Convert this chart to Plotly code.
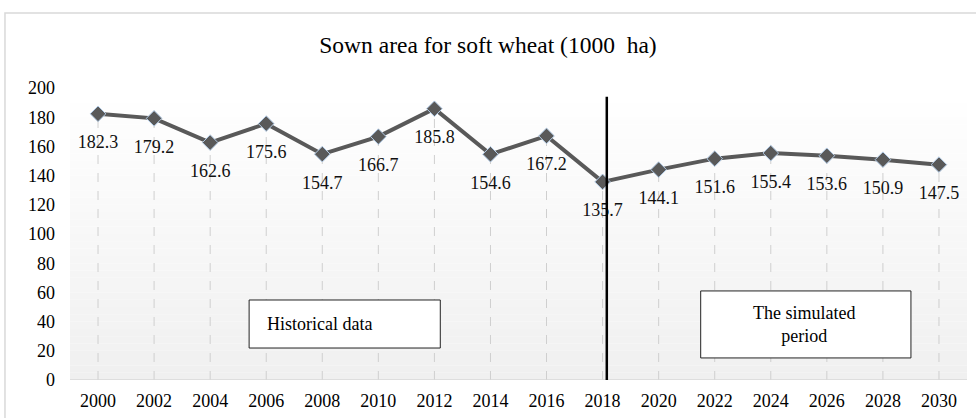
import plotly.graph_objects as go

years = [2000, 2002, 2004, 2006, 2008, 2010, 2012, 2014, 2016, 2018, 2020, 2022, 2024, 2026, 2028, 2030]
area = [182.3, 179.2, 162.6, 175.6, 154.7, 166.7, 185.8, 154.6, 167.2, 135.7, 144.1, 151.6, 155.4, 153.6, 150.9, 147.5]
y_ticks = list(range(0, 201, 20))
title = "Sown area for soft wheat (1000  ha)"
box_hist = "Historical data"
box_sim = "The simulated period"
split_year = 2018

FONT = "Liberation Serif, Times New Roman, serif"
LINE_C = "#595959"

fig = go.Figure()

# drop lines
dx, dy = [], []
for x, v in zip(years, area):
    dx += [x, x, None]
    dy += [0, v, None]
fig.add_trace(go.Scatter(x=dx, y=dy, mode="lines", hoverinfo="skip",
                         line=dict(color="#cfcfcf", width=1, dash="dash"), showlegend=False))

fig.add_trace(go.Scatter(x=years, y=area, mode="lines+markers",
                         line=dict(color=LINE_C, width=4),
                         marker=dict(symbol="diamond", size=12, color=LINE_C,
                                     line=dict(color="#b4cde8", width=1)),
                         showlegend=False))

# data labels below points (offset ~30 px => data units with 1.46 px/unit)
label_off = 30 / 1.46
fig.add_trace(go.Scatter(x=years, y=[v - label_off for v in area], mode="text",
                         text=[f"{v:.1f}" for v in area], textposition="middle center",
                         textfont=dict(family=FONT, size=18, color="#111111"),
                         hoverinfo="skip", showlegend=False))

shapes = []
# gradient background in plot area
n = 40
for i in range(n):
    t = i / (n - 1)
    c = int(round(255 - (255 - 240) * (1 - t)))
    shapes.append(dict(type="rect", xref="paper", yref="paper", x0=0, x1=1,
                       y0=i / n, y1=(i + 1) / n, fillcolor=f"rgb({c},{c},{c})",
                       line=dict(width=0), layer="below"))
# outer chart border
shapes.append(dict(type="rect", xref="paper", yref="paper", x0=-0.0725, x1=1.05,
                   y0=-0.3, y1=1.257, line=dict(color="#d9d9d9", width=1.5),
                   fillcolor="rgba(0,0,0,0)", layer="below"))
# zero line
shapes.append(dict(type="line", xref="paper", yref="y", x0=0, x1=1, y0=0, y1=0,
                   line=dict(color="#d9d9d9", width=1.5), layer="above"))
# split line
shapes.append(dict(type="line", xref="x", yref="y", x0=split_year + 0.15, x1=split_year + 0.15,
                   y0=0, y1=194, line=dict(color="black", width=2.5), layer="above"))
# text boxes
shapes.append(dict(type="rect", xref="x", yref="y", x0=2005.39, x1=2012.21, y0=21.9, y1=54.8,
                   fillcolor="white", line=dict(color="#222222", width=1), layer="above"))
shapes.append(dict(type="rect", xref="x", yref="y", x0=2021.5, x1=2029.0, y0=15.1, y1=61.0,
                   fillcolor="white", line=dict(color="#222222", width=1), layer="above"))

annotations = [
    dict(x=2005.95, y=38.4, xref="x", yref="y", text=box_hist, showarrow=False,
         xanchor="left", yanchor="middle", font=dict(family=FONT, size=18, color="black")),
    dict(x=2025.2, y=38.0, xref="x", yref="y", text=box_sim.replace("simulated ", "simulated<br>"),
         showarrow=False, xanchor="center", yanchor="middle", align="center",
         font=dict(family=FONT, size=18, color="black")),
]

fig.update_layout(
    width=976, height=418,
    margin=dict(l=70, r=9, t=88, b=38, autoexpand=False),
    paper_bgcolor="white", plot_bgcolor="rgba(0,0,0,0)",
    title=dict(text=title, x=0.5, xref="container", y=1 - 45 / 418, yref="container",
               xanchor="center", yanchor="middle",
               font=dict(family=FONT, size=23.5, color="black")),
    shapes=shapes, annotations=annotations,
    xaxis=dict(range=[1999, 2031], tickvals=years, ticktext=[str(y) for y in years],
               showgrid=False, zeroline=False, showline=False, ticks="", automargin=False,
               ticklabelstandoff=8,
               tickfont=dict(family=FONT, size=18, color="black")),
    yaxis=dict(range=[0, 200], tickvals=y_ticks, showgrid=False, zeroline=False,
               showline=False, ticks="", ticklabelstandoff=14, automargin=False,
               tickfont=dict(family=FONT, size=18, color="black")),
)

fig.write_html("out.html", config={"displayModeBar": False},
               post_script="document.body.style.margin='0';")
